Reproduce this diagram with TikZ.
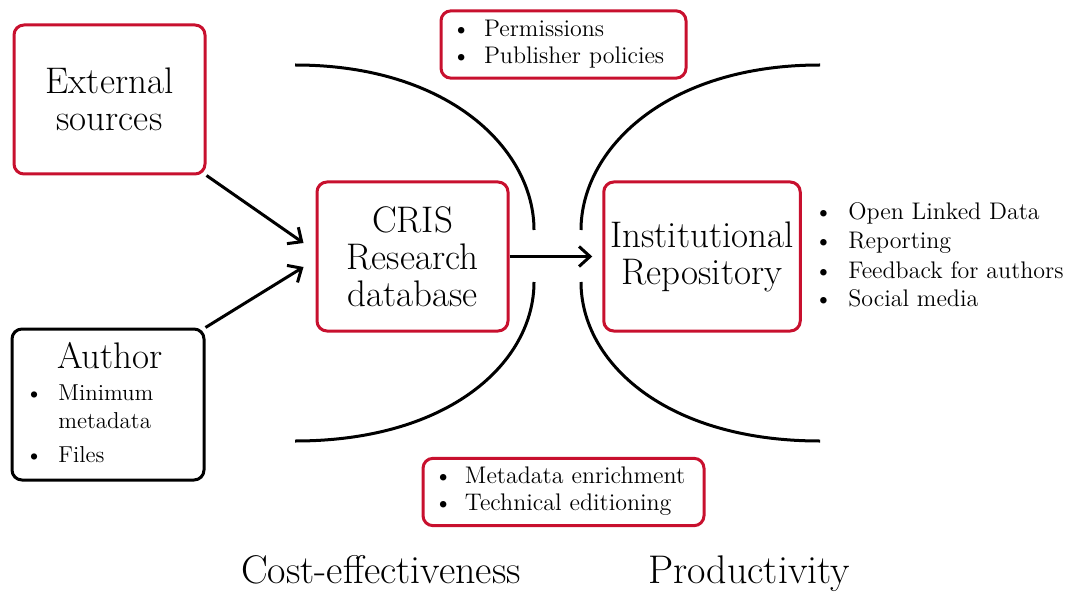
\documentclass[tikz,border=0pt]{standalone}
\usepackage{array}
\usetikzlibrary{arrows.meta}
\definecolor{boxred}{RGB}{200,16,46}

\newcommand{\bigtext}{\fontsize{18.5}{18.5}\selectfont}
\newcommand{\labeltext}{\fontsize{20}{20}\selectfont}
\newcommand{\smalltext}{\fontsize{12}{13.5}\selectfont}

\begin{document}
\begin{tikzpicture}[x=0.5pt,y=-0.5pt,
		redbox/.style={draw=boxred,line width=1.5pt,rounded corners=5pt,align=center},
		blackbox/.style={draw=black,line width=1.5pt,rounded corners=5pt},
		listbox/.style={redbox,align=left,inner xsep=5.5pt,font=\smalltext},
		arr/.style={line width=1.5pt,-{Straight Barb[length=5.5pt,width=10pt]}},
		curve/.style={line width=1.5pt}]
	\useasboundingbox (0,0) rectangle (1069,593);

	% funnels
	\draw[curve] (295,65) .. controls (450,65) and (534,150) .. (534,230);
	\draw[curve] (534,282) .. controls (534,362) and (450,441) .. (295,441);
	\draw[curve] (820,65) .. controls (665,65) and (581,150) .. (581,230);
	\draw[curve] (581,282) .. controls (581,362) and (665,441) .. (820,441);

	% main boxes
	\node[redbox,minimum width=95.5pt,minimum height=74.5pt,font=\bigtext] (ext) at (109.5,99.5) {External\\sources};
	\node[redbox,minimum width=95.5pt,minimum height=74.5pt,font=\bigtext] (cris) at (412.5,256.5) {CRIS\\Research\\database};
	\node[redbox,minimum width=95pt,minimum height=74.5pt,font=\bigtext] (ir) at (702,256.5) {Institutional\\Repository};

	% author
	\node[blackbox,minimum width=96pt,minimum height=75.5pt] (author) at (108,404.5) {};
	\node[anchor=base,font=\bigtext] (authtitle) at (110,368) {Author};
	\node[anchor=base west,inner sep=0pt,font=\fontsize{11.5}{14}\selectfont] (authlist) at (25,400) {%
		\begin{tabular}[t]{@{}p{16.5pt}@{}l@{}}
			\textbullet & Minimum\\
			& metadata\\[3pt]
			\textbullet & Files
		\end{tabular}};

	% side lists
	\node[listbox,text width=111.5pt,minimum height=32.5pt] (perm) at (563.5,44.5) {%
		\begin{tabular}{@{}p{16pt}@{}l@{}}
			\textbullet & Permissions\\
			\textbullet & Publisher policies
		\end{tabular}};
	\node[listbox,text width=129.5pt,minimum height=33pt] (enrich) at (563.5,492) {%
		\begin{tabular}{@{}p{15.5pt}@{}l@{}}
			\textbullet & Metadata enrichment\\
			\textbullet & Technical editioning
		\end{tabular}};
	\node[anchor=base west,inner sep=0pt,font=\fontsize{12}{14.5}\selectfont] (outlist) at (814,220) {%
		\begin{tabular}[t]{@{}p{17pt}@{}l@{}}
			\textbullet & Open Linked Data\\
			\textbullet & Reporting\\
			\textbullet & Feedback for authors\\
			\textbullet & Social media
		\end{tabular}};

	% bottom labels
	\node[anchor=base,font=\labeltext] (cost) at (381,583) {Cost-effectiveness};
	\node[anchor=base,font=\labeltext] (prod) at (749,583) {Productivity};

	% arrows
	\draw[arr] (ext.south east) -- ([xshift=-6pt,yshift=6.75pt]cris.west);
	\draw[arr] (author.north east) -- ([xshift=-6pt,yshift=-5.25pt]cris.west);
	\draw[arr] (cris.east) -- ([xshift=-5pt]ir.west);
\end{tikzpicture}
\end{document}
